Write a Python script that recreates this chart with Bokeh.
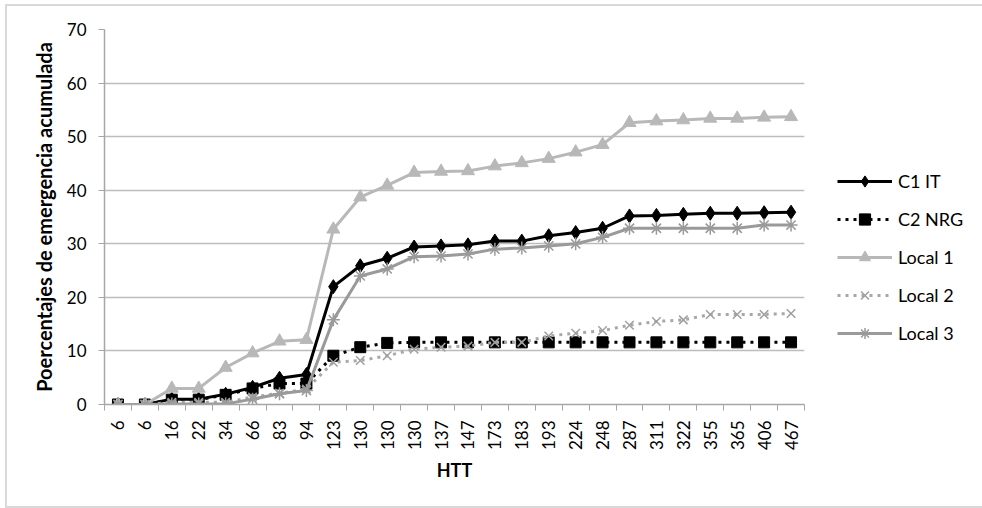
import math
from bokeh.plotting import figure
from bokeh.layouts import row
from bokeh.models import FixedTicker, Legend, LegendItem, ColumnDataSource
from bokeh.embed import file_html
from bokeh.resources import INLINE

htt_labels = ["6", "6", "16", "22", "34", "66", "83", "94", "123", "130", "130", "130",
              "137", "147", "173", "183", "193", "224", "248", "287", "311", "322",
              "355", "365", "406", "467"]

c1_it = [0, 0, 1.0, 1.0, 1.9, 3.2, 4.9, 5.6, 22.0, 25.9, 27.3, 29.4, 29.6, 29.8, 30.5,
         30.5, 31.5, 32.1, 32.9, 35.2, 35.3, 35.5, 35.7, 35.7, 35.8, 35.9]
c2_nrg = [0, 0, 0.9, 0.9, 1.8, 3.0, 3.9, 3.9, 9.1, 10.7, 11.5, 11.6, 11.6, 11.6, 11.6,
          11.6, 11.6, 11.6, 11.6, 11.6, 11.6, 11.6, 11.6, 11.6, 11.6, 11.6]
local_1 = [0, 0, 3.0, 3.0, 6.9, 9.6, 11.8, 12.1, 32.7, 38.7, 40.9, 43.3, 43.5, 43.6, 44.5,
           45.1, 45.9, 47.1, 48.5, 52.6, 52.9, 53.1, 53.4, 53.4, 53.6, 53.7]
local_2 = [0, 0, 0.4, 0.4, 0.4, 1.4, 2.1, 2.9, 7.9, 8.2, 9.1, 10.3, 10.7, 10.9, 11.6,
           11.6, 12.8, 13.3, 13.8, 14.8, 15.5, 15.8, 16.8, 16.8, 16.8, 17.0]
local_3 = [0, 0, 0.1, 0.1, 0.1, 1.0, 2.0, 2.6, 15.8, 24.0, 25.3, 27.6, 27.7, 28.1, 29.0,
           29.2, 29.6, 30.0, 31.2, 32.9, 32.9, 32.9, 32.9, 32.9, 33.5, 33.5]

series_names = ["C1 IT", "C2 NRG", "Local 1", "Local 2", "Local 3"]
y_ticks = [0, 10, 20, 30, 40, 50, 60, 70]

x = list(range(len(htt_labels)))
src = ColumnDataSource(dict(x=x, c1=c1_it, c2=c2_nrg, l1=local_1, l2=local_2, l3=local_3))

FONT = "Lato"
GRAY_AX = "#a6a6a6"

# style of each series: (column, line kwargs, marker kwargs)
styles = [
    ("c1", dict(line_color="black", line_width=3),
     dict(marker="diamond", size=14, fill_color="black", line_color="black")),
    ("c2", dict(line_color="black", line_width=3, line_dash="3 5"),
     dict(marker="square", size=11, fill_color="black", line_color="black")),
    ("l1", dict(line_color="#b8b8b8", line_width=3),
     dict(marker="triangle", size=13, fill_color="#b8b8b8", line_color="#b8b8b8")),
    ("l2", dict(line_color="#a8a8a8", line_width=3, line_dash="3 5"),
     dict(marker="x", size=12, line_color="#a0a0a0", line_width=1.5)),
    ("l3", dict(line_color="#9a9a9a", line_width=3),
     dict(marker="asterisk", size=13, line_color="#9a9a9a", line_width=1.5)),
]

H = 500
p = figure(width=807, height=H, x_range=(-0.5, len(x) - 0.5), y_range=(0, 70),
           output_backend="svg", toolbar_location=None,
           min_border_left=97, min_border_top=23, min_border_bottom=102, min_border_right=10)
p.outline_line_color = None
p.background_fill_color = "white"
p.border_fill_color = "white"

# axes
p.xaxis.ticker = FixedTicker(ticks=x, minor_ticks=[i - 0.5 for i in range(len(x) + 1)])
p.xaxis.major_label_overrides = {i: lab for i, lab in zip(x, htt_labels)}
p.xaxis.major_label_orientation = math.pi / 2
p.xaxis.major_tick_line_color = None
p.xaxis.minor_tick_line_color = GRAY_AX
p.xaxis.minor_tick_out = 6
p.xaxis.minor_tick_in = 0
p.xaxis.axis_line_color = GRAY_AX
p.xaxis.axis_line_width = 1.5
p.xaxis.major_label_text_font = FONT
p.xaxis.major_label_text_font_size = "17px"
p.xaxis.major_label_text_color = "black"
p.xaxis.major_label_standoff = 10
p.xaxis.axis_label = "HTT"
p.xaxis.axis_label_text_font = FONT
p.xaxis.axis_label_text_font_size = "18px"
p.xaxis.axis_label_text_font_style = "bold"
p.xaxis.axis_label_text_color = "black"
p.xaxis.axis_label_standoff = 6

p.yaxis.ticker = FixedTicker(ticks=y_ticks)
p.yaxis.minor_tick_line_color = None
p.yaxis.major_tick_line_color = GRAY_AX
p.yaxis.major_tick_out = 6
p.yaxis.major_tick_in = 0
p.yaxis.axis_line_color = GRAY_AX
p.yaxis.axis_line_width = 1.5
p.yaxis.major_label_text_font = FONT
p.yaxis.major_label_text_font_size = "17px"
p.yaxis.major_label_text_color = "black"
p.yaxis.major_label_standoff = 12
p.yaxis.axis_label = "Poercentajes de emergencia acumulada"
p.yaxis.axis_label_text_font = FONT
p.yaxis.axis_label_text_font_size = "20px"
p.yaxis.axis_label_text_font_style = "bold"
p.yaxis.axis_label_text_color = "black"
p.yaxis.axis_label_standoff = 8

p.xgrid.grid_line_color = None
p.ygrid.grid_line_color = "#bdbdbd"
p.ygrid.grid_line_width = 1.5

for col, lkw, mkw in styles:
    p.line("x", col, source=src, **lkw)
    p.scatter("x", col, source=src, **mkw)

# legend panel: a second figure whose view shows none of the data,
# carrying the same series so that its legend has real glyph samples
p2 = figure(width=176, height=H, x_range=(-100, -99), y_range=(-100, -99),
            output_backend="svg", toolbar_location=None,
            x_axis_location=None, y_axis_location=None,
            min_border_left=0, min_border_right=0, min_border_top=0, min_border_bottom=0)
p2.outline_line_color = None
p2.xgrid.grid_line_color = None
p2.ygrid.grid_line_color = None
p2.background_fill_color = "white"
p2.border_fill_color = "white"

items = []
for name, (col, lkw, mkw) in zip(series_names, styles):
    rl = p2.line("x", col, source=src, **lkw)
    rm = p2.scatter("x", col, source=src, **mkw)
    items.append(LegendItem(label=name, renderers=[rl, rm]))

legend = Legend(items=items, location=(23, 57), orientation="vertical",
                border_line_color=None, background_fill_alpha=0,
                glyph_width=55, glyph_height=28, label_height=28, spacing=10,
                label_standoff=6, padding=0, margin=0,
                label_text_font=FONT, label_text_font_size="18px", label_text_color="black",
                label_text_baseline="middle")
p2.add_layout(legend, "center")

layout = row(p, p2, spacing=0)
layout.styles = {"border": "2px solid #d9d9d9"}
layout.margin = (4, 0, 0, 5)

open("out.html", "w").write(file_html(layout, INLINE))
